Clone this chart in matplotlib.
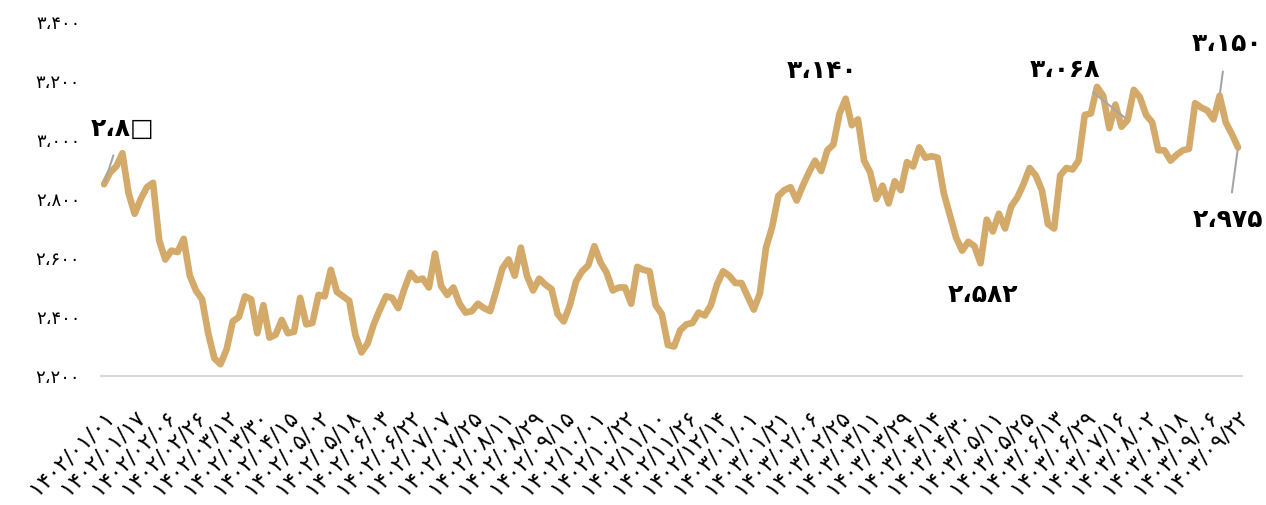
import matplotlib.pyplot as plt

plt.rcParams['font.family'] = ['DejaVu Sans']

# Persian digits for all labels
fa = str.maketrans('0123456789,', '۰۱۲۳۴۵۶۷۸۹،')

# Price series, one value per step; a date label every 5th step
prices = [2850, 2890, 2910, 2955, 2820, 2750, 2800, 2840, 2855, 2660,
          2595, 2625, 2620, 2665, 2540, 2490, 2460, 2345, 2260, 2240,
          2290, 2385, 2400, 2470, 2460, 2345, 2440, 2330, 2340, 2390,
          2345, 2350, 2465, 2375, 2380, 2475, 2470, 2560, 2485, 2470,
          2455, 2340, 2280, 2310, 2375, 2425, 2470, 2465, 2430, 2495,
          2550, 2525, 2530, 2500, 2615, 2505, 2475, 2500, 2445, 2415,
          2420, 2445, 2430, 2420, 2490, 2565, 2595, 2540, 2635, 2540,
          2490, 2530, 2510, 2495, 2410, 2385, 2440, 2520, 2555, 2575,
          2640, 2585, 2550, 2490, 2500, 2500, 2445, 2570, 2560, 2555,
          2440, 2410, 2305, 2300, 2355, 2375, 2380, 2415, 2405, 2440,
          2510, 2555, 2540, 2515, 2515, 2470, 2425, 2480, 2635, 2705,
          2810, 2830, 2840, 2795, 2845, 2890, 2930, 2895, 2965, 2985,
          3090, 3140, 3050, 3070, 2930, 2890, 2800, 2845, 2785, 2860,
          2830, 2925, 2910, 2975, 2940, 2945, 2940, 2820, 2745, 2670,
          2625, 2655, 2640, 2582, 2730, 2690, 2750, 2700, 2775, 2805,
          2850, 2905, 2880, 2830, 2715, 2700, 2880, 2905, 2900, 2930,
          3085, 3090, 3180, 3150, 3040, 3120, 3045, 3068, 3170, 3145,
          3085, 3060, 2965, 2965, 2930, 2950, 2965, 2970, 3125, 3110,
          3100, 3070, 3150, 3060, 3020, 2975]

dates = ['1402/01/01', '1402/01/17', '1402/02/06', '1402/02/26', '1402/03/12',
         '1402/03/30', '1402/04/15', '1402/05/02', '1402/05/18', '1402/06/03',
         '1402/06/22', '1402/07/07', '1402/07/25', '1402/08/11', '1402/08/29',
         '1402/09/15', '1402/10/01', '1402/10/22', '1402/11/10', '1402/11/26',
         '1402/12/14', '1403/01/01', '1403/01/21', '1403/02/06', '1403/02/25',
         '1403/03/11', '1403/03/29', '1403/04/14', '1403/04/30', '1403/05/11',
         '1403/05/25', '1403/06/13', '1403/06/29', '1403/07/16', '1403/08/02',
         '1403/08/18', '1403/09/06', '1403/09/22']
step = 5

yticks = [2200, 2400, 2600, 2800, 3000, 3200, 3400]

# (index, label, text offset in points, leader line?)
notes = [(0, '۲،۸□', (13, 40), True),
         (121, '۳،۱۴۰', (-17, 20), False),
         (167, '۳،۰۶۸', (-45, 36), True),
         (182, '۳،۱۵۰', (5, 37), True),
         (185, '۲،۹۷۵', (-7, -52), True),
         (143, '۲،۵۸۲', (2, -23), False)]

fig = plt.figure(figsize=(12.66, 5.05), dpi=100)
ax = fig.add_axes([101 / 1266, 129 / 505, 1141 / 1266, 354 / 505])

n = len(prices)
x = list(range(n))
ax.plot(x, prices, color='#D4AA6A', lw=4.8, solid_joinstyle='round',
        solid_capstyle='round', zorder=3)

px = (n - 1) / 1134
ax.set_xlim(-3 * px, n - 1 + 4 * px)
ax.set_ylim(2200, 3400)

ax.set_xticks(range(0, n, step))
ax.set_xticklabels([d.translate(fa) for d in dates], rotation=45,
                   ha='right', va='top', rotation_mode='anchor', fontsize=16)
ax.set_yticks(yticks)
ax.set_yticklabels([f'{v:,}'.translate(fa) for v in yticks], fontsize=13)
ax.tick_params(axis='both', length=0)
ax.tick_params(axis='x', pad=22)
ax.tick_params(axis='y', pad=15)

for side in ['top', 'right', 'left']:
    ax.spines[side].set_visible(False)
ax.spines['bottom'].set_color('#D9D9D9')
ax.spines['bottom'].set_linewidth(1.5)

for i, txt, off, leader in notes:
    arrow = dict(arrowstyle='-', color='#A6A6A6', lw=1.5,
                 shrinkA=9, shrinkB=2) if leader else None
    ax.annotate(txt, (i, prices[i]), xytext=off, textcoords='offset points',
                ha='center', va='center', fontsize=18, fontweight='bold',
                arrowprops=arrow, zorder=4)

fig.savefig('out.png', dpi=100)
